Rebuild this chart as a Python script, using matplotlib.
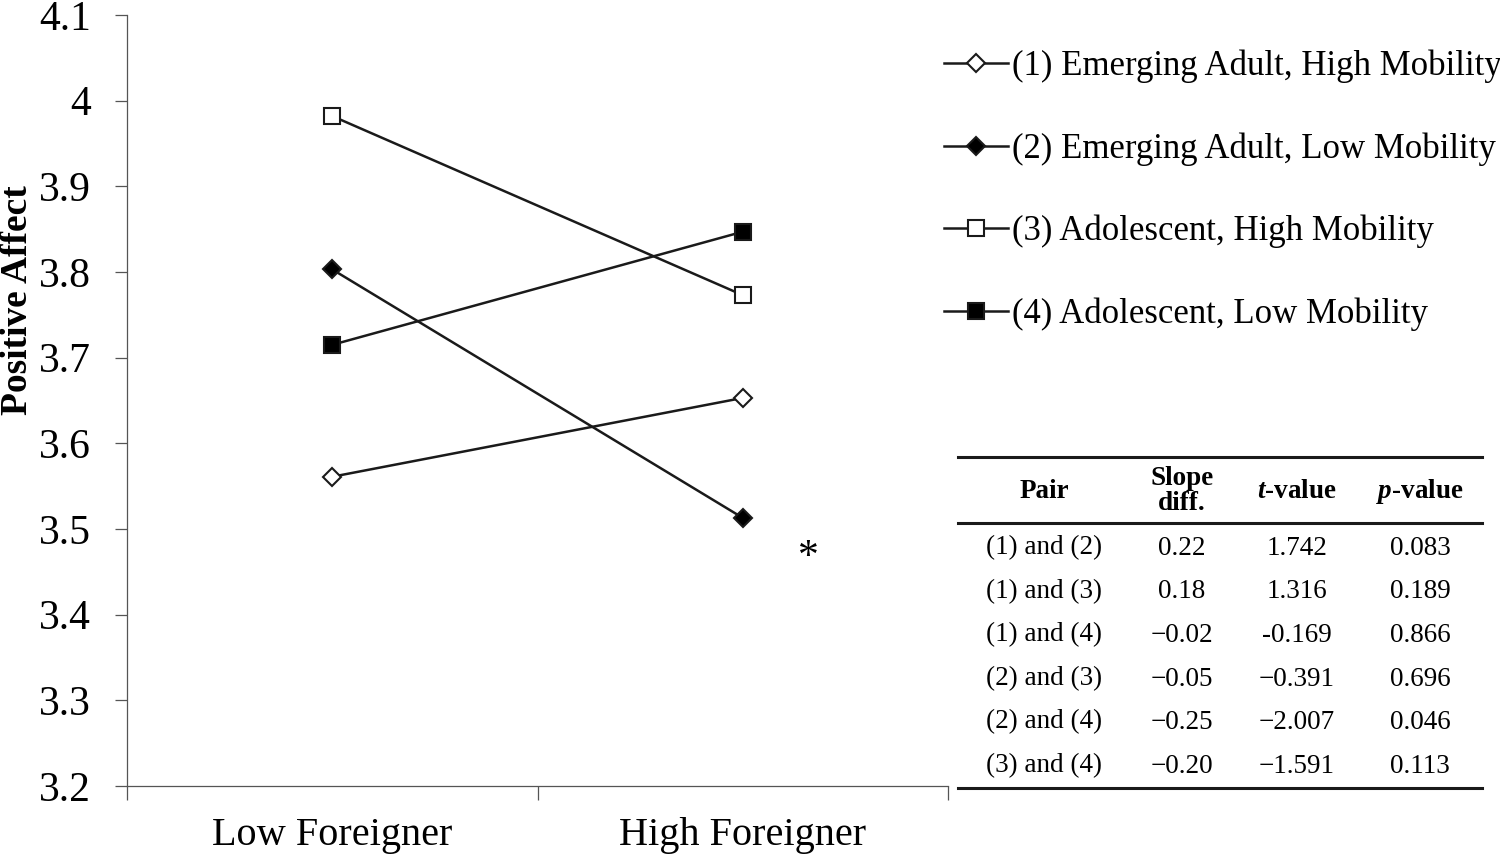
import matplotlib.pyplot as plt
from matplotlib.lines import Line2D

plt.rcParams['font.family'] = ['Liberation Serif', 'DejaVu Serif']
plt.rcParams['mathtext.fontset'] = 'custom'
plt.rcParams['mathtext.it'] = 'Liberation Serif:italic:bold'
plt.rcParams['mathtext.rm'] = 'Liberation Serif:bold'

# --- data ---
conditions = ['Low Foreigner', 'High Foreigner']
labels = ['(1) Emerging Adult, High Mobility',
          '(2) Emerging Adult, Low Mobility',
          '(3) Adolescent, High Mobility',
          '(4) Adolescent, Low Mobility']
g1 = [3.561, 3.653]
g2 = [3.803, 3.513]
g3 = [3.982, 3.773]
g4 = [3.715, 3.847]
yticks = [3.2, 3.3, 3.4, 3.5, 3.6, 3.7, 3.8, 3.9, 4.0, 4.1]
ytick_labels = ['3.2', '3.3', '3.4', '3.5', '3.6', '3.7', '3.8', '3.9', '4', '4.1']

tab_header = ['Pair', 'Slope\ndiff.', '$t$-value', '$p$-value']
pairs = ['(1) and (2)', '(1) and (3)', '(1) and (4)', '(2) and (3)', '(2) and (4)', '(3) and (4)']
slope_diff = ['0.22', '0.18', '\u22120.02', '\u22120.05', '\u22120.25', '\u22120.20']
t_vals = ['1.742', '1.316', '-0.169', '\u22120.391', '\u22122.007', '\u22121.591']
p_vals = ['0.083', '0.189', '0.866', '0.696', '0.046', '0.113']

W, H = 1500, 855
fig = plt.figure(figsize=(15, 8.55), dpi=100)
ax = fig.add_axes([127 / W, (H - 786) / H, 821 / W, 771 / H])

xs = [0.5, 1.5]
styles = [('D', 'white', 9.5), ('D', 'black', 9.5), ('s', 'white', 12), ('s', 'black', 12)]
handles = []
for ys, (mk, fc, ms), lab in zip([g1, g2, g3, g4], styles, labels):
    h, = ax.plot(xs, ys, color='#1a1a1a', lw=1.8, marker=mk, ms=ms,
                 mfc=fc, mec='#1a1a1a', mew=1.5, label=lab)
    handles.append(h)

ax.text(1.66, 3.466, '*', fontsize=30, ha='center', va='center')

ax.set_xlim(0, 2)
ax.set_ylim(3.2, 4.1)
ax.set_yticks(yticks)
ax.set_yticklabels(ytick_labels, fontsize=30)
ax.set_xticks([0, 1, 2])
ax.set_xticklabels([])
ax.set_xticks(xs, minor=True)
ax.set_xticklabels(conditions, minor=True, fontsize=29)
ax.tick_params(axis='x', which='minor', length=0, pad=22)
ax.tick_params(axis='x', which='major', length=10, width=0.9, color='#555555')
ax.tick_params(axis='y', length=9, width=0.9, color='#555555', pad=17)
for s in ['top', 'right']:
    ax.spines[s].set_visible(False)
for s in ['left', 'bottom']:
    ax.spines[s].set_color('#555555')
    ax.spines[s].set_linewidth(0.9)
ax.set_ylabel('Positive Affect', fontsize=27, fontweight='bold')
ax.yaxis.set_label_coords(-0.112, 0.63)

fig.legend(handles=handles, loc='upper left', bbox_to_anchor=(930 / W, 1 - 36 / H),
           frameon=False, fontsize=25, handlelength=1.85, handletextpad=0.12,
           labelspacing=1.41, borderaxespad=0)

# --- table ---
def fx(px):
    return px / W

def fy(py):
    return 1 - py / H

x0, x1 = 958, 1482
fig.add_artist(Line2D([fx(x0), fx(x1)], [fy(457), fy(457)], color='#1a1a1a', lw=2.2))
fig.add_artist(Line2D([fx(x0), fx(x1)], [fy(523), fy(523)], color='#1a1a1a', lw=2.2))
fig.add_artist(Line2D([fx(x0), fx(x1)], [fy(788), fy(788)], color='#1a1a1a', lw=2.2))

col_x = [1044, 1182, 1297, 1420]
for cx, txt in zip(col_x, tab_header):
    fig.text(fx(cx), fy(491), txt, ha='center', va='center', fontsize=19.5,
             fontweight='bold', linespacing=1.05)

row_y = [548, 592, 635, 679, 722, 766]
for i, ry in enumerate(row_y):
    for cx, col in zip(col_x, [pairs, slope_diff, t_vals, p_vals]):
        fig.text(fx(cx), fy(ry), col[i], ha='center', va='center', fontsize=19.5)

fig.savefig('out.png', dpi=100)
